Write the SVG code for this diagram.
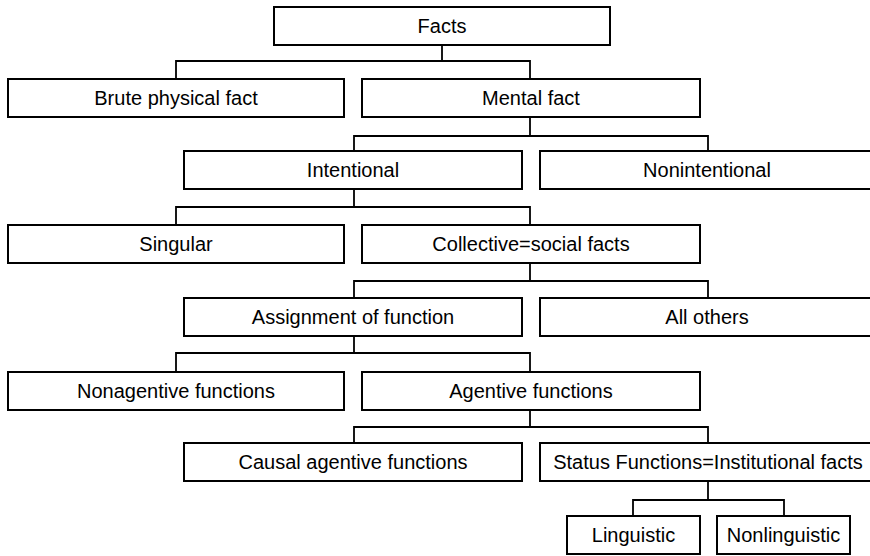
<svg xmlns="http://www.w3.org/2000/svg" width="870" height="556" viewBox="0 0 870 556">
<style>
.box{fill:#fff;stroke:#000;stroke-width:2}
.t{font-family:"Liberation Sans",Arial,sans-serif;font-size:20px;fill:#000;text-anchor:middle}
.c{fill:none;stroke:#000;stroke-width:1.8}
</style>
<rect width="870" height="556" fill="#fff"/>
<g id="connectors">
<path class="c" d="M442 45V61M176 79V61H530V79"/>
<path class="c" d="M530 117V136M354 151V136H708V151"/>
<path class="c" d="M354 189V207M176 225V207H530V225"/>
<path class="c" d="M530 263V281M354 298V281H708V298"/>
<path class="c" d="M354 336V353M176 372V353H530V372"/>
<path class="c" d="M530 410V427M354 443V427H708V443"/>
<path class="c" d="M708 481V500M633 516V500H784V516"/>
</g>
<g id="facts"><rect class="box" x="274" y="7" width="336" height="38"/><text class="t" x="442" y="33">Facts</text></g>
<g id="brute"><rect class="box" x="8" y="79" width="336" height="38"/><text class="t" x="176" y="105">Brute physical fact</text></g>
<g id="mental"><rect class="box" x="362" y="79" width="338" height="38"/><text class="t" x="531" y="105">Mental fact</text></g>
<g id="intentional"><rect class="box" x="184" y="151" width="338" height="38"/><text class="t" x="353" y="177">Intentional</text></g>
<g id="nonintentional"><rect class="box" x="540" y="151" width="336" height="38"/><text class="t" x="707" y="177">Nonintentional</text></g>
<g id="singular"><rect class="box" x="8" y="225" width="336" height="38"/><text class="t" x="176" y="251">Singular</text></g>
<g id="collective"><rect class="box" x="362" y="225" width="338" height="38"/><text class="t" x="531" y="251">Collective=social facts</text></g>
<g id="assignment"><rect class="box" x="184" y="298" width="338" height="38"/><text class="t" x="353" y="324">Assignment of function</text></g>
<g id="allothers"><rect class="box" x="540" y="298" width="336" height="38"/><text class="t" x="707" y="324">All others</text></g>
<g id="nonagentive"><rect class="box" x="8" y="372" width="336" height="38"/><text class="t" x="176" y="398">Nonagentive functions</text></g>
<g id="agentive"><rect class="box" x="362" y="372" width="338" height="38"/><text class="t" x="531" y="398">Agentive functions</text></g>
<g id="causal"><rect class="box" x="184" y="443" width="338" height="38"/><text class="t" x="353" y="469">Causal agentive functions</text></g>
<g id="status"><rect class="box" x="540" y="443" width="336" height="38"/><text class="t" x="708" y="469">Status Functions=Institutional facts</text></g>
<g id="linguistic"><rect class="box" x="567" y="516" width="133" height="38"/><text class="t" x="633.5" y="542">Linguistic</text></g>
<g id="nonlinguistic"><rect class="box" x="717" y="516" width="133" height="38"/><text class="t" x="783.5" y="542">Nonlinguistic</text></g>
</svg>
